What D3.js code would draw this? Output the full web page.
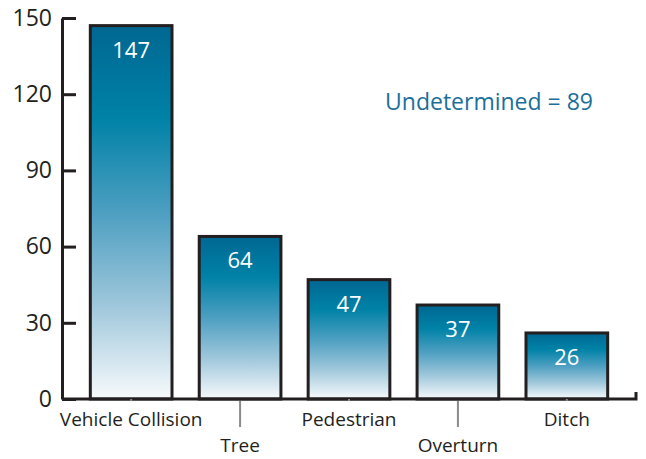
<!DOCTYPE html>
<html>
<head>
<meta charset="utf-8">
<script src="https://cdn.jsdelivr.net/npm/d3@7"></script>
<style>
  body { margin: 0; background: #fff; }
  text { font-family: "Open Sans", sans-serif; }
</style>
</head>
<body>
<div id="chart-area"></div>
<script>
// Data
var categories = ["Vehicle Collision", "Tree", "Pedestrian", "Overturn", "Ditch"];
var counts = [147, 64, 47, 37, 26];
var yTicks = [0, 30, 60, 90, 120, 150];
var note = "Undetermined = 89";

var W = 646, H = 459;
var x0 = 62, x1 = 636, yBase = 399, yTop = 18;

var svg = d3.select("#chart-area").append("svg")
    .attr("width", W)
    .attr("height", H);

// Bar gradient
var grad = svg.append("defs").append("linearGradient")
    .attr("id", "barGrad")
    .attr("x1", 0).attr("y1", 0).attr("x2", 0).attr("y2", 1);
[[0, "#006792"], [0.25, "#0082a7"], [0.5, "#4d9fc1"], [0.75, "#9fc7db"], [1, "#f7fafc"]]
    .forEach(function(s) {
        grad.append("stop").attr("offset", s[0]).attr("stop-color", s[1]);
    });

// Scales
var x = d3.scaleBand()
    .domain(categories)
    .range([x0, x1])
    .paddingInner(0.25)
    .paddingOuter(0.26);
var y = d3.scaleLinear().domain([0, 150]).range([yBase, yTop]);

var data = categories.map(function(c, i) { return { cat: c, val: counts[i] }; });

// Bars
svg.selectAll(".bar").data(data).enter().append("rect")
    .attr("class", "bar")
    .attr("x", function(d) { return x(d.cat); })
    .attr("y", function(d) { return y(d.val); })
    .attr("width", x.bandwidth())
    .attr("height", function(d) { return yBase - y(d.val); })
    .attr("fill", "url(#barGrad)")
    .attr("stroke", "#231f20")
    .attr("stroke-width", 3);

// Value labels
svg.selectAll(".val").data(data).enter().append("text")
    .attr("class", "val")
    .attr("x", function(d) { return x(d.cat) + x.bandwidth() / 2; })
    .attr("y", function(d) { return y(d.val) + 32; })
    .attr("text-anchor", "middle")
    .attr("fill", "#fff")
    .style("font-size", "22px")
    .text(function(d) { return d.val; });

// Y axis
var yAxis = svg.append("g")
    .attr("transform", "translate(" + x0 + ",0)")
    .call(d3.axisLeft(y).tickValues(yTicks).tickSizeInner(-14).tickSizeOuter(0).tickPadding(10));
yAxis.select(".domain").attr("stroke", "#231f20").attr("stroke-width", 3);
yAxis.selectAll(".tick line").attr("stroke", "#231f20").attr("stroke-width", 3);
yAxis.selectAll(".tick text")
    .attr("fill", "#231f20")
    .style("font-size", "23px")
    .style("font-family", "'Open Sans', sans-serif");

// X axis
var xAxis = svg.append("g")
    .attr("transform", "translate(0," + yBase + ")")
    .call(d3.axisBottom(x).tickSize(0).tickPadding(0));
xAxis.select(".domain")
    .attr("d", "M" + x0 + ",0H" + x1 + "V-7")
    .attr("fill", "none")
    .attr("stroke", "#231f20")
    .attr("stroke-width", 3);
xAxis.selectAll(".tick text")
    .attr("dy", null)
    .attr("y", function(d, i) { return i % 2 ? 53 : 27; })
    .attr("fill", "#231f20")
    .style("font-size", "19px")
    .style("font-family", "'Open Sans', sans-serif");
xAxis.selectAll(".tick line")
    .attr("y1", 2)
    .attr("y2", function(d, i) { return i % 2 ? 28 : 0; })
    .attr("stroke", "#8a8a8a")
    .attr("stroke-width", 2);

// Note
svg.append("text")
    .attr("x", 489)
    .attr("y", 110)
    .attr("text-anchor", "middle")
    .attr("fill", "#1b6f9b")
    .style("font-size", "23px")
    .text(note);
</script>
</body>
</html>
